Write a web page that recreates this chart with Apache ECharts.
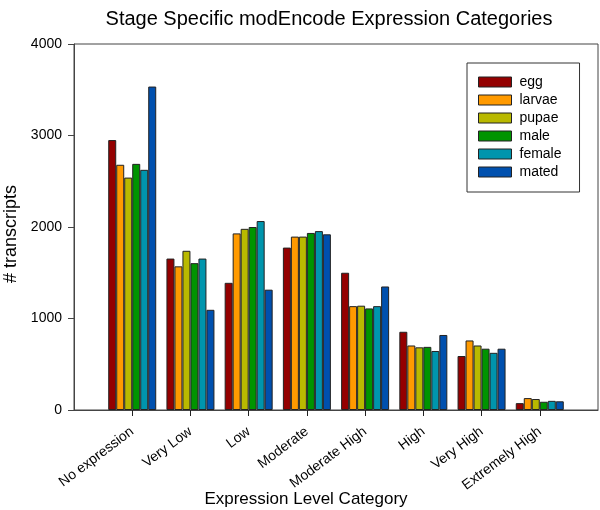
<!DOCTYPE html>
<html>
<head>
<meta charset="utf-8">
<script src="https://cdn.jsdelivr.net/npm/echarts@6/dist/echarts.min.js"></script>
<style>
html,body{margin:0;padding:0;background:#fff;}
#chart{width:600px;height:510px;}
</style>
</head>
<body>
<div id="chart"></div>
<script>
const categories = ['No expression','Very Low','Low','Moderate','Moderate High','High','Very High','Extremely High'];
const egg    = [2950,1655,1390,1775,1500,855,590,75];
const larvae = [2680,1570,1930,1895,1135,705,760,130];
const pupae  = [2540,1740,1980,1895,1140,685,705,120];
const male   = [2690,1605,2000,1935,1110,690,670,90];
const female = [2625,1655,2065,1955,1135,645,625,100];
const mated  = [3535,1095,1315,1920,1350,820,670,95];
const yTicks = [0,1000,2000,3000,4000];

const seriesNames = ['egg','larvae','pupae','male','female','mated'];
const seriesData = [egg,larvae,pupae,male,female,mated];
const colors = ['#940000','#FF9A00','#B9B900','#009400','#0095AD','#0050AE'];

const font = 'Arial, "Liberation Sans", sans-serif';
const chart = echarts.init(document.getElementById('chart'), null, {renderer:'canvas'});
chart.setOption({
  animation:false,
  backgroundColor:'#fff',
  title:[
    {text:'Stage Specific modEncode Expression Categories', left:324, top:4, textAlign:'center',
     textStyle:{fontFamily:font, fontSize:20, fontWeight:'normal', color:'#000'}},
    {text:'Expression Level Category', left:301, top:486, textAlign:'center',
     textStyle:{fontFamily:font, fontSize:17, fontWeight:'normal', color:'#000'}}
  ],
  grid:{left:74, right:2, top:44, bottom:100, containLabel:false, outerBoundsMode:'none',
        show:true, borderColor:'#444', borderWidth:1, backgroundColor:'transparent'},
  legend:{
    orient:'vertical', left:467, top:63,
    padding:[12,18,13,11], itemGap:4, itemWidth:33, itemHeight:10,
    backgroundColor:'#fff', borderColor:'#333', borderWidth:1,
    icon:'rect',
    itemStyle:{borderColor:'#222', borderWidth:1},
    textStyle:{fontFamily:font, fontSize:14, color:'#000', padding:[0,0,0,3]},
    data:seriesNames
  },
  xAxis:{
    type:'category', boundaryGap:false,
    data:['',...categories,''],
    axisLine:{lineStyle:{color:'#444', width:1}},
    axisTick:{show:true, length:6, inside:false, interval:function(i){return i>0 && i<9;}, lineStyle:{color:'#222'}},
    axisLabel:{interval:0, rotate:37, margin:20, fontFamily:font, fontSize:14, color:'#000'},
    splitLine:{show:false}
  },
  yAxis:{
    type:'value', min:yTicks[0], max:yTicks[yTicks.length-1], interval:1000,
    name:'# transcripts', nameLocation:'middle', nameGap:53,
    nameTextStyle:{fontFamily:font, fontSize:18, color:'#000', padding:[0,14,0,0]},
    axisLine:{show:true, lineStyle:{color:'#444', width:1}},
    axisTick:{show:true, length:6, lineStyle:{color:'#444'}},
    axisLabel:{margin:12, fontFamily:font, fontSize:14, color:'#000', formatter:function(v){return String(v);}},
    splitLine:{show:false}
  },
  series: seriesNames.map((n,i)=>({
    name:n, type:'bar', barWidth:8, barGap:'0%',
    data:[null,...seriesData[i],null],
    itemStyle:{color:colors[i], borderColor:'#222', borderWidth:1}
  }))
});
</script>
</body>
</html>
